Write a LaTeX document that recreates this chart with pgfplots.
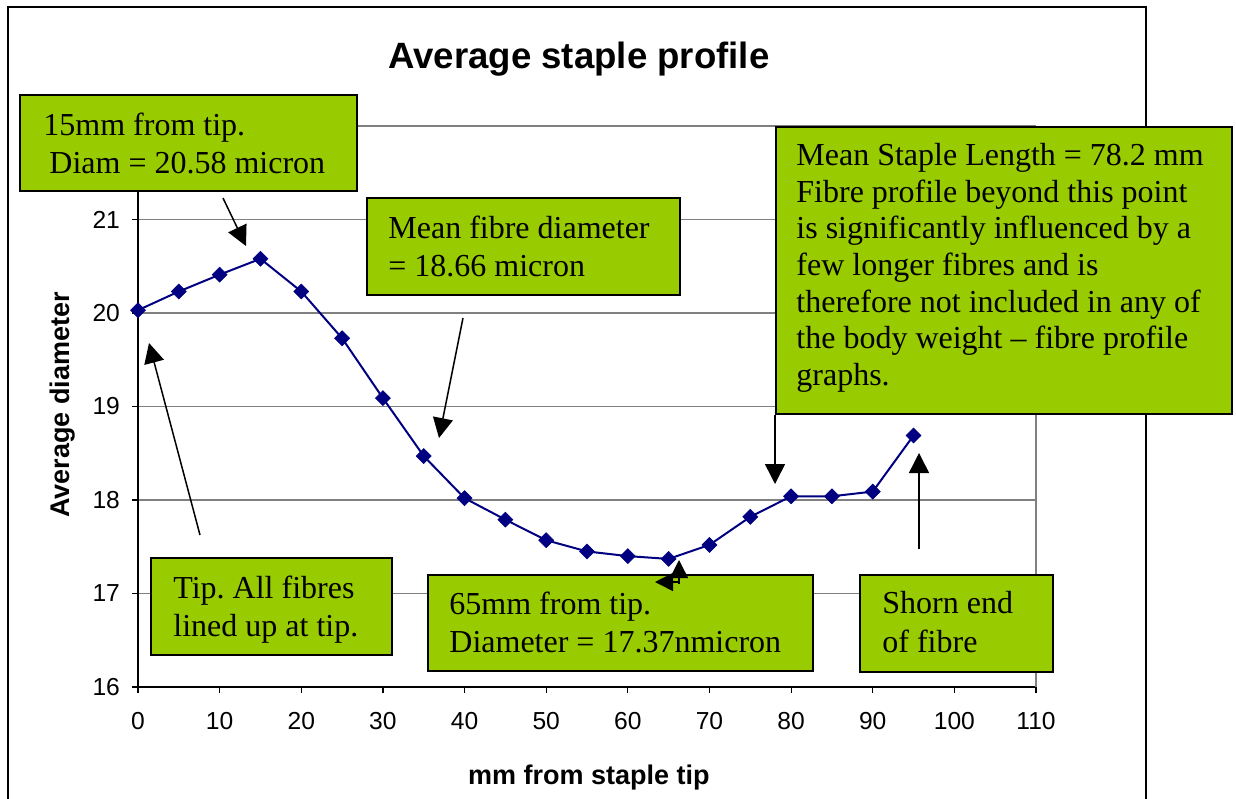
\documentclass[border=0pt]{standalone}
\usepackage{pgfplots}
\pgfplotsset{compat=1.18}
\usepackage{fontspec}
\setmainfont{Liberation Serif}
\newfontfamily\arial{Liberation Sans}
\usetikzlibrary{arrows.meta}
\frenchspacing

\definecolor{boxgreen}{RGB}{153,204,0}
\definecolor{navyline}{RGB}{0,0,128}
\definecolor{gridgray}{RGB}{128,128,128}

% staple profile: distance from tip (mm) vs average diameter (micron)
\pgfplotstableread{
mm   diam
0    20.03
5    20.23
10   20.41
15   20.58
20   20.23
25   19.73
30   19.09
35   18.47
40   18.02
45   17.79
50   17.57
55   17.45
60   17.40
65   17.37
70   17.52
75   17.82
80   18.04
85   18.04
90   18.09
95   18.69
}\profile

\tikzset{
  note/.style={fill=boxgreen, draw=black, line width=0.75pt},
  notetext/.style={anchor=base west, inner sep=0pt, font=\fontsize{16}{18.5}\selectfont},
  callout/.style={draw=black, line width=0.75pt, -{Triangle[length=10pt,width=10pt]}},
  smallcallout/.style={draw=black, line width=0.75pt, -{Triangle[length=9pt,width=9pt]}},
}

\begin{document}
\begin{tikzpicture}
\useasboundingbox (0pt,0pt) rectangle (618pt,-399pt);

\begin{axis}[
  at={(69pt,-343.5pt)}, anchor=south west,
  scale only axis, width=449pt, height=280.5pt,
  xmin=0, xmax=110, ymin=16, ymax=22,
  xtick={0,10,...,110}, ytick={16,17,...,22},
  yticklabels={16,17,18,19,20,21,{}},
  axis lines=left, axis line style={-, black, line width=0.75pt},
  tick align=outside, major tick length=3pt,
  tick style={black, line width=0.6pt},
  ymajorgrids, grid style={gridgray, line width=0.6pt},
  clip=false,
  /pgf/number format/assume math mode=true,
  tick label style={font=\arial\fontsize{12.3}{14}\selectfont},
  yticklabel style={xshift=-2.5pt},
  xticklabel style={yshift=-6pt},
  title={Average staple profile},
  title style={at={(axis description cs:0.491,1.082)}, anchor=base,
    font=\arial\bfseries\fontsize{18.3}{21}\selectfont},
  xlabel={mm from staple tip},
  xlabel style={at={(axis description cs:0.502,-0.173)}, anchor=base,
    font=\arial\bfseries\fontsize{13.5}{16}\selectfont},
  ylabel={Average diameter},
  ylabel style={at={(axis description cs:-0.0768,0.5027)}, anchor=base, rotate=0,
    font=\arial\bfseries\fontsize{13.5}{16}\selectfont},
]
  % right edge of the plot area
  \draw[gridgray, line width=0.6pt] (axis description cs:1,0) -- (axis description cs:1,1);
  \addplot[navyline, line width=1pt, mark=square*, mark size=2.65pt,
    mark options={rotate=45, fill=navyline, draw=navyline, line width=0.3pt}]
    table[x=mm, y=diam] {\profile};
\end{axis}

\begin{scope}[x=0.5pt, y=-0.5pt]
  % chart frame
  \draw[black, line width=0.75pt] (8,800) -- (8,7) -- (1146,7) -- (1146,800);

  % callouts
  \draw[callout] (223,198) -- (246,246);
  \draw[callout] (463,318) -- (439,438);
  \draw[callout] (200,535) -- (149,343);
  \draw[callout] (775,415) -- (775,484);
  \draw[callout] (919,549) -- (919,453);

  % note boxes
  \filldraw[note] (20,95) rectangle (357,191);
  \node[notetext] at (43,135) {15mm from tip.};
  \node[notetext] at (49,173) {Diam = 20.58 micron};

  \filldraw[note] (367,198) rectangle (680,295);
  \node[notetext] at (388,238) {Mean fibre diameter};
  \node[notetext] at (388,276) {= 18.66 micron};

  \filldraw[note] (776,127) rectangle (1232,414);
  \node[notetext] at (796,165) {Mean Staple Length = 78.2 mm};
  \node[notetext] at (796,202) {Fibre profile beyond this point};
  \node[notetext] at (796,238) {is significantly influenced by a};
  \node[notetext] at (796,275) {few longer fibres and is};
  \node[notetext] at (796,312) {therefore not included in any of};
  \node[notetext] at (796,348) {the body weight -- fibre profile};
  \node[notetext] at (796,385) {graphs.};

  \filldraw[note] (151,558) rectangle (392,655);
  \node[notetext] at (173,598) {Tip. All fibres};
  \node[notetext] at (173,636) {lined up at tip.};

  \filldraw[note] (428,575) rectangle (813,671);
  \node[notetext] at (449,614) {65mm from tip.};
  \node[notetext] at (449,652) {Diameter = 17.37nmicron};
  % the two short pointers sit on top of the 65mm box
  \draw[smallcallout] (679,584) -- (679,560);
  \draw[smallcallout] (679,582) -- (655,582);

  \filldraw[note] (860,575) rectangle (1053,672);
  \node[notetext] at (882,613) {Shorn end};
  \node[notetext] at (882,652) {of fibre};
\end{scope}
\end{tikzpicture}
\end{document}
